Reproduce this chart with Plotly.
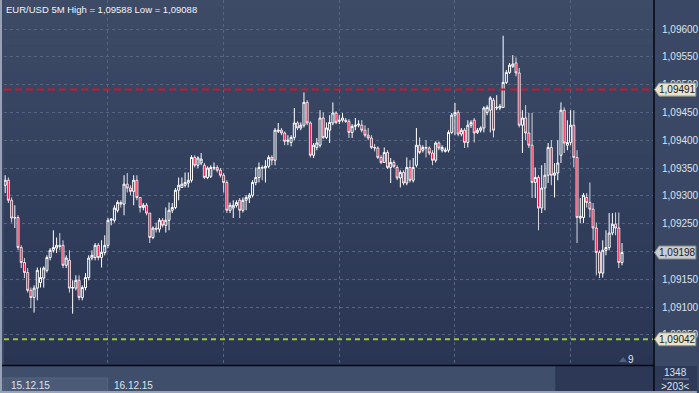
import plotly.graph_objects as go
import pandas as pd

# EUR/USD 5-minute candles, prices given as points (1e-5) above 1.09000
start_time = "2015-12-15 21:20"
n_candles = 193

open_pts = [319, 328, 292, 260, 261, 207, 180, 162, 130, 117,
            134, 144, 152, 166, 189, 202, 206, 211, 211, 175,
            184, 134, 134, 148, 117, 135, 153, 188, 189, 211,
            189, 198, 211, 256, 256, 274, 288, 285, 321, 314,
            308, 328, 297, 279, 283, 269, 225, 242, 240, 256,
            247, 256, 274, 279, 310, 315, 319, 323, 328, 369,
            355, 359, 355, 333, 335, 350, 351, 346, 337, 324,
            274, 278, 283, 292, 274, 292, 296, 301, 324, 333,
            351, 350, 353, 369, 364, 416, 418, 413, 398, 396,
            405, 431, 422, 427, 468, 431, 373, 387, 391, 440,
            405, 418, 431, 449, 434, 436, 436, 434, 414, 425,
            427, 427, 418, 409, 404, 387, 386, 369, 360, 378,
            351, 360, 351, 332, 342, 323, 351, 328, 355, 391,
            382, 387, 386, 377, 364, 395, 382, 380, 382, 414,
            445, 450, 411, 418, 396, 427, 436, 414, 418, 422,
            450, 454, 472, 458, 458, 459, 504, 522, 533, 539,
            521, 427, 440, 413, 391, 324, 333, 278, 314, 337,
            387, 337, 341, 373, 454, 391, 396, 427, 369, 260,
            261, 297, 288, 276, 242, 198, 161, 202, 207, 233,
            249, 242, 180]

high_pts = [337, 333, 297, 283, 265, 211, 188, 170, 135, 139,
            171, 171, 173, 193, 206, 238, 225, 233, 220, 193,
            202, 148, 157, 157, 139, 161, 193, 202, 215, 215,
            220, 229, 260, 260, 283, 292, 292, 337, 341, 319,
            337, 337, 297, 287, 287, 269, 245, 252, 260, 260,
            279, 288, 287, 314, 333, 333, 342, 342, 373, 373,
            371, 377, 359, 353, 355, 360, 355, 350, 341, 328,
            288, 292, 292, 296, 297, 301, 305, 328, 351, 360,
            355, 364, 373, 373, 422, 431, 422, 416, 409, 409,
            458, 434, 432, 486, 472, 434, 395, 404, 454, 450,
            432, 445, 468, 452, 445, 449, 440, 438, 429, 440,
            436, 436, 427, 422, 409, 393, 389, 373, 387, 382,
            368, 364, 355, 346, 346, 369, 364, 368, 422, 405,
            391, 400, 389, 382, 398, 398, 391, 387, 418, 449,
            467, 454, 422, 422, 436, 436, 440, 422, 425, 461,
            463, 479, 476, 481, 465, 588, 526, 539, 553, 549,
            530, 454, 463, 449, 449, 351, 337, 355, 359, 395,
            400, 359, 400, 468, 459, 436, 454, 454, 382, 296,
            305, 305, 324, 287, 252, 202, 220, 238, 269, 269,
            270, 270, 215]

low_pts = [305, 287, 252, 242, 202, 170, 152, 126, 98, 90,
           112, 135, 135, 162, 184, 198, 197, 202, 170, 170,
           126, 88, 130, 112, 112, 130, 148, 184, 184, 184,
           171, 193, 206, 247, 252, 270, 279, 265, 306, 301,
           283, 292, 270, 274, 265, 215, 222, 234, 234, 243,
           234, 238, 269, 276, 292, 314, 315, 315, 324, 351,
           350, 355, 330, 330, 332, 346, 342, 333, 306, 269,
           269, 260, 279, 260, 270, 274, 287, 297, 319, 324,
           328, 324, 350, 355, 355, 413, 409, 391, 391, 389,
           400, 418, 418, 423, 427, 369, 368, 382, 387, 402,
           402, 395, 427, 429, 429, 432, 431, 404, 404, 418,
           423, 414, 405, 400, 384, 380, 366, 357, 359, 348,
           323, 350, 328, 315, 319, 319, 324, 324, 351, 375,
           378, 369, 373, 355, 360, 382, 378, 378, 378, 411,
           409, 407, 407, 386, 387, 422, 396, 411, 414, 414,
           445, 414, 405, 454, 454, 458, 501, 519, 530, 515,
           423, 377, 400, 386, 296, 296, 238, 269, 274, 323,
           319, 297, 328, 359, 377, 382, 391, 351, 215, 251,
           251, 279, 261, 220, 157, 152, 153, 193, 202, 229,
           229, 170, 175]

close_pts = [328, 292, 260, 261, 207, 180, 162, 130, 117, 134,
             166, 153, 170, 189, 202, 207, 211, 209, 175, 188,
             134, 135, 148, 117, 135, 153, 188, 193, 211, 189,
             198, 211, 256, 258, 278, 288, 285, 321, 314, 308,
             328, 297, 279, 283, 269, 225, 242, 240, 256, 247,
             256, 274, 279, 310, 319, 321, 324, 328, 369, 355,
             368, 366, 333, 350, 351, 351, 346, 337, 324, 274,
             283, 283, 288, 274, 292, 297, 301, 324, 333, 351,
             350, 353, 369, 364, 418, 418, 413, 398, 400, 405,
             431, 422, 427, 468, 431, 373, 391, 395, 440, 405,
             422, 432, 449, 432, 436, 440, 434, 414, 425, 427,
             429, 418, 409, 404, 387, 386, 369, 360, 378, 351,
             360, 353, 332, 342, 323, 351, 328, 351, 391, 378,
             387, 386, 377, 364, 395, 386, 387, 382, 414, 445,
             450, 411, 418, 396, 427, 432, 413, 418, 422, 458,
             459, 476, 418, 459, 461, 504, 522, 535, 537, 521,
             427, 440, 413, 391, 324, 333, 278, 314, 337, 387,
             337, 341, 359, 454, 395, 396, 427, 369, 261, 263,
             301, 288, 276, 242, 198, 161, 202, 207, 233, 249,
             242, 180, 198]

x_tick_vals = ["2015-12-16 00:00", "2015-12-16 03:00", "2015-12-16 06:00",
               "2015-12-16 09:00", "2015-12-16 12:00"]
x_tick_text = ["00:00", "03:00", "06:00", "09:00",
               "<span style='color:#6e7b96'>12:00</span>"]
y_tick_vals = [1.0905, 1.0910, 1.0915, 1.0920, 1.0925, 1.0930,
               1.0935, 1.0940, 1.0945, 1.0950, 1.0955, 1.0960]
y_tick_text = ["1,09050", "1,09100", "1,09150", "", "1,09250", "1,09300",
               "1,09350", "1,09400", "1,09450", "1,09500", "1,09550", "1,09600"]

title_text = "EUR/USD 5M High = 1,09588 Low = 1,09088"
red_level = 1.09491
green_level = 1.09042
last_price = 1.09198
red_label = "1,09491"
green_label = "1,09042"
last_label = "1,09198"
date_left = "15.12.15"
date_right = "16.12.15"
counter_text = "9"
info_top = "1348"
info_bottom = ">203<"

base = 1.09
times = pd.date_range(start_time, periods=n_candles, freq="5min")
o = [base + v / 100000 for v in open_pts]
h = [base + v / 100000 for v in high_pts]
l = [base + v / 100000 for v in low_pts]
c = [base + v / 100000 for v in close_pts]

W, H = 699, 393
ML, MR, MT, MB = 4, 44, 0, 28
PW, PH = W - ML - MR, H - MT - MB


def px(xp):
    return (xp - ML) / PW


def py(yp):
    return (H - MB - yp) / PH


Y0, Y1 = 1.089957, 1.096522
ppx = (Y1 - Y0) / PH

fig = go.Figure()
fig.add_trace(go.Candlestick(
    x=times, open=o, high=h, low=l, close=c,
    increasing=dict(line=dict(color="#ffffff", width=1), fillcolor="#34425f"),
    decreasing=dict(line=dict(color="#ffffff", width=0.8), fillcolor="#ee1240"),
    whiskerwidth=0, hoverinfo="skip", showlegend=False,
))

shapes = []
# plot background gradient
top_rgb = (61, 75, 103)
bot_rgb = (41, 53, 83)
nb = 40
for i in range(nb):
    t = i / (nb - 1)
    col = tuple(round(top_rgb[k] + (bot_rgb[k] - top_rgb[k]) * t) for k in range(3))
    shapes.append(dict(type="rect", xref="paper", yref="paper",
                       x0=0, x1=1, y0=1 - (i + 1) / nb, y1=1 - i / nb + 0.001,
                       fillcolor="rgb(%d,%d,%d)" % col, line=dict(width=0),
                       layer="below"))
# bottom time band
shapes.append(dict(type="rect", xref="paper", yref="paper", x0=px(0), x1=px(656),
                   y0=py(H), y1=py(366), fillcolor="#3f4e6b", line=dict(width=0)))
shapes.append(dict(type="rect", xref="paper", yref="paper", x0=px(557), x1=px(656),
                   y0=py(H), y1=py(366), fillcolor="#2c3855", line=dict(width=0)))
shapes.append(dict(type="rect", xref="paper", yref="paper", x0=px(3), x1=px(108),
                   y0=py(392), y1=py(378), fillcolor="#4b5a77",
                   line=dict(color="#56657f", width=1)))
# lower right info box
shapes.append(dict(type="rect", xref="paper", yref="paper", x0=px(657), x1=px(W),
                   y0=py(H), y1=py(366), fillcolor="#2d3956", line=dict(width=0)))
shapes.append(dict(type="line", xref="paper", yref="paper", x0=px(665), x1=px(691),
                   y0=py(379), y1=py(379), line=dict(color="#8a95aa", width=1)))
# separators
shapes.append(dict(type="line", xref="paper", yref="paper", x0=px(0), x1=px(656),
                   y0=py(365.5), y1=py(365.5), line=dict(color="#05070c", width=1.5)))
shapes.append(dict(type="line", xref="paper", yref="paper", x0=px(656), x1=px(656),
                   y0=py(0), y1=py(H), line=dict(color="#05070c", width=1.5)))
# outer light border (left, bottom)
shapes.append(dict(type="line", xref="paper", yref="paper", x0=px(1), x1=px(1),
                   y0=py(0), y1=py(H), line=dict(color="#9aa3b4", width=2)))
shapes.append(dict(type="line", xref="paper", yref="paper", x0=px(0), x1=px(W),
                   y0=py(392), y1=py(392), line=dict(color="#9aa3b4", width=2)))
# horizontal level lines
shapes.append(dict(type="line", xref="paper", yref="y", x0=0, x1=1,
                   y0=red_level, y1=red_level,
                   line=dict(color="#c8192e", width=2, dash="7px,4px")))
shapes.append(dict(type="line", xref="paper", yref="y", x0=0, x1=1,
                   y0=green_level, y1=green_level,
                   line=dict(color="#9cc83a", width=2, dash="5px,4px")))

annotations = []


def price_tag(level, text, bg):
    half = 6.5 * ppx
    shapes.append(dict(type="path", xref="paper", yref="y",
                       path="M %f,%f L %f,%f L %f,%f L %f,%f L %f,%f Z" % (
                           px(656.5), level,
                           px(661), level + half,
                           px(698), level + half,
                           px(698), level - half,
                           px(661), level - half),
                       fillcolor=bg, line=dict(color="#8c8c80", width=1)))
    annotations.append(dict(xref="paper", yref="y", x=px(679.5), y=level,
                            text=text, showarrow=False, xanchor="center",
                            yanchor="middle",
                            font=dict(family="Liberation Sans", size=10,
                                      color="#1b1b1b")))


price_tag(red_level, red_label, "#e6e3cf")
price_tag(last_price, last_label, "#c9cdd5")
price_tag(green_level, green_label, "#e6e3cf")

# counter marker
shapes.append(dict(type="path", xref="paper", yref="paper",
                   path="M %f,%f L %f,%f L %f,%f Z" % (
                       px(621), py(362), px(629), py(362), px(625), py(357)),
                   fillcolor="#55617a", line=dict(width=0)))

light = "#dde3ee"
annotations += [
    dict(xref="paper", yref="paper", x=px(4), y=py(9), text=title_text,
         showarrow=False, xanchor="left", yanchor="middle",
         font=dict(family="Liberation Sans", size=9.5, color="#f2f4f8")),
    dict(xref="paper", yref="paper", x=px(9), y=py(385), text=date_left,
         showarrow=False, xanchor="left", yanchor="middle",
         font=dict(family="Liberation Sans", size=10, color=light)),
    dict(xref="paper", yref="paper", x=px(112), y=py(385), text=date_right,
         showarrow=False, xanchor="left", yanchor="middle",
         font=dict(family="Liberation Sans", size=10, color=light)),
    dict(xref="paper", yref="paper", x=px(633), y=py(359), text=counter_text,
         showarrow=False, xanchor="center", yanchor="middle",
         font=dict(family="Liberation Sans", size=10, color=light)),
    dict(xref="paper", yref="paper", x=px(678), y=py(372), text=info_top,
         showarrow=False, xanchor="center", yanchor="middle",
         font=dict(family="Liberation Sans", size=10, color=light)),
    dict(xref="paper", yref="paper", x=px(678), y=py(386), text=info_bottom,
         showarrow=False, xanchor="center", yanchor="middle",
         font=dict(family="Liberation Sans", size=10, color=light)),
]

grid = "#56647f"
fig.update_layout(
    width=W, height=H,
    margin=dict(l=ML, r=MR, t=MT, b=MB, pad=0),
    paper_bgcolor="#3a4865",
    plot_bgcolor="#34425f",
    separators=",.",
    boxgap=0.1,
    shapes=shapes,
    annotations=annotations,
    xaxis=dict(
        type="date",
        range=["2015-12-15 21:18:10", "2015-12-16 14:08:13"],
        rangeslider=dict(visible=False),
        tickvals=x_tick_vals, ticktext=x_tick_text,
        showgrid=True, gridcolor=grid, gridwidth=1, griddash="3px,3px",
        zeroline=False, showline=False, ticks="",
        tickfont=dict(family="Liberation Sans", size=10, color=light),
    ),
    yaxis=dict(
        side="right", range=[Y0, Y1],
        tickvals=y_tick_vals, ticktext=y_tick_text,
        showgrid=True, gridcolor=grid, gridwidth=1, griddash="3px,3px",
        zeroline=False, showline=False,
        ticks="outside", ticklen=6, tickcolor="rgba(0,0,0,0)",
        tickfont=dict(family="Liberation Sans", size=10, color=light),
    ),
    hovermode=False,
)

fig.write_html(
    "out.html",
    config={"displayModeBar": False},
    post_script="document.body.style.margin='0';document.body.style.padding='0';",
)
